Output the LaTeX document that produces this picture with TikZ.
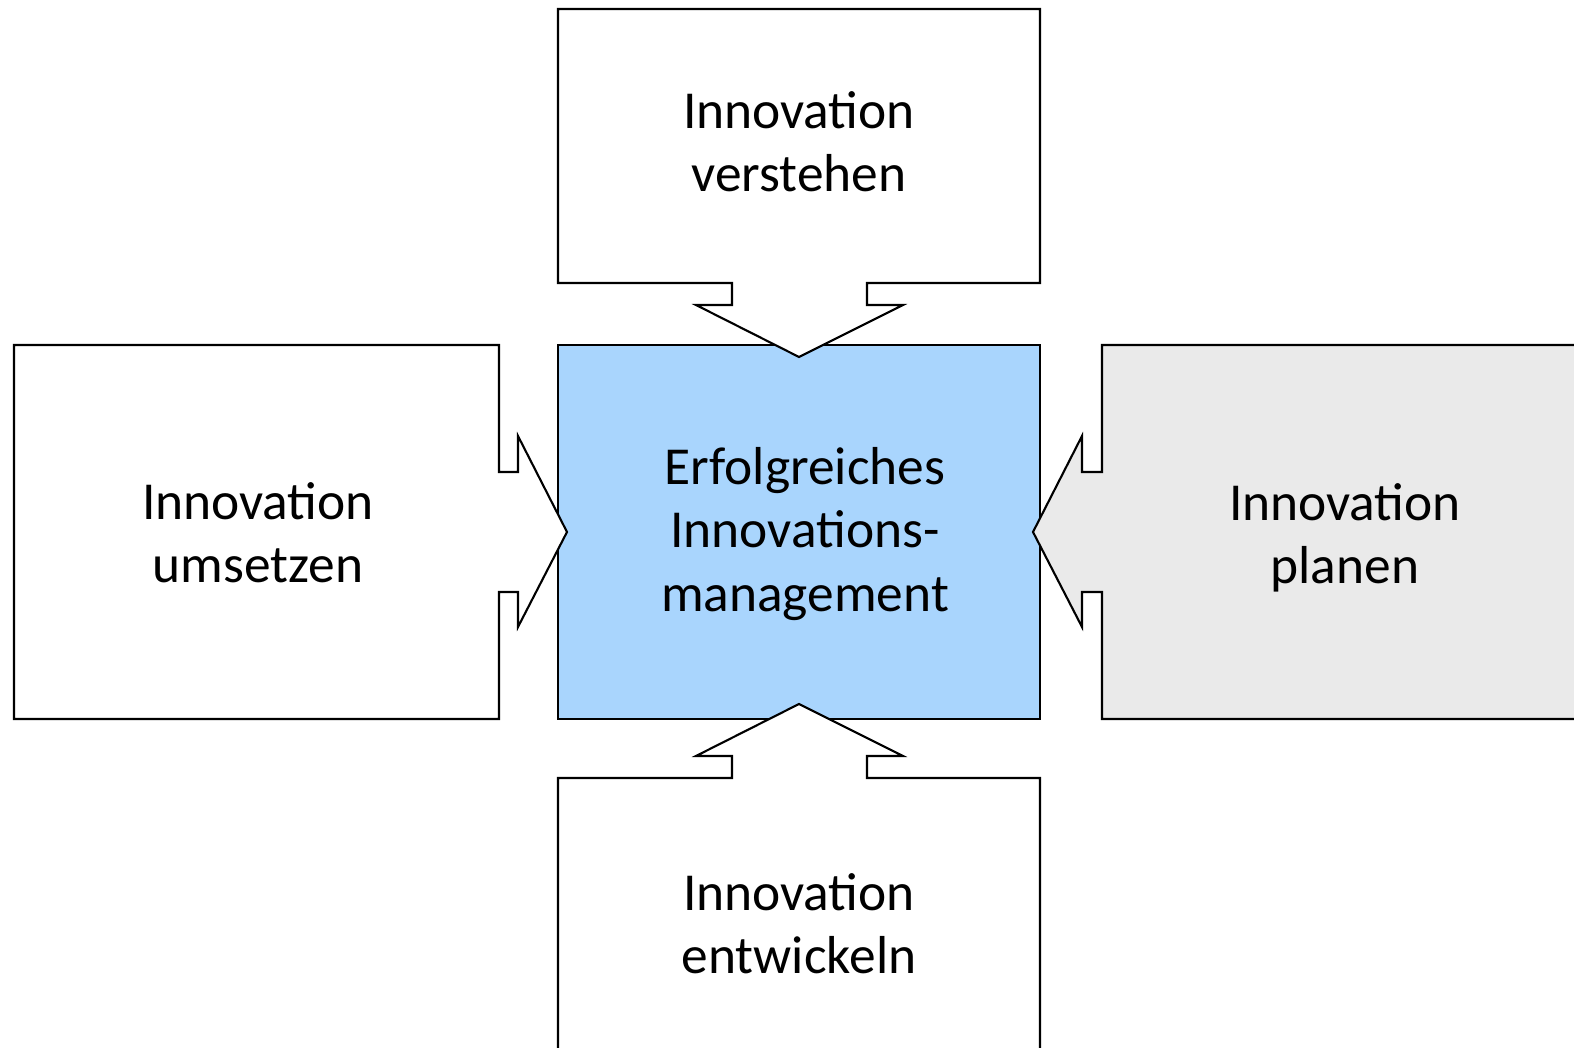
\documentclass[tikz,border=0pt]{standalone}
\usepackage{fontspec}
\setmainfont{Carlito}
\usepackage{xcolor}
\usetikzlibrary{calc}

\definecolor{coreblue}{RGB}{169,213,253}
\definecolor{plangray}{RGB}{234,234,234}

\begin{document}
\begin{tikzpicture}[
    x=0.1mm, y=-0.1mm,
    frame/.style={draw=black, line width=0.6pt, line join=miter},
    txt/.style={align=center, inner sep=0pt, font=\fontsize{15.2}{18}\selectfont},
    core/.style={rectangle, frame, fill=coreblue, minimum width=48.2mm, minimum height=37.4mm}
]
\useasboundingbox (0,0) rectangle (1574,1048);
\clip (0,0) rectangle (1574,1048);

% centre box
\node[core] (core) at (799,532) {};

% callout boxes pointing at the centre
\draw[frame, fill=white] (558,9) -- (1040,9) -- (1040,283) -- (867,283) -- (867,305) -- (903,305)
    -- (799,357) -- (696,305) -- (732,305) -- (732,283) -- (558,283) -- cycle;
\draw[frame, fill=white] (558,1100) -- (558,778) -- (732,778) -- (732,756) -- (696,756)
    -- (799,704) -- (903,756) -- (867,756) -- (867,778) -- (1040,778) -- (1040,1100) -- cycle;
\draw[frame, fill=white] (14,345) -- (499,345) -- (499,472) -- (518,472) -- (518,436)
    -- (567,532) -- (518,627) -- (518,592) -- (499,592) -- (499,719) -- (14,719) -- cycle;
\draw[frame, fill=plangray] (1600,345) -- (1102,345) -- (1102,472) -- (1082,472) -- (1082,436)
    -- (1033,532) -- (1082,627) -- (1082,592) -- (1102,592) -- (1102,719) -- (1600,719) -- cycle;

% labels
\node[txt] (coretext) at (805,534) {Erfolgreiches\\Innovations-\\management};
\node[txt] (verstehen) at (799,142) {Innovation\\verstehen};
\node[txt] (umsetzen) at (258,533) {Innovation\\umsetzen};
\node[txt] (planen) at (1345,538) {Innovation\\planen};
\node[txt] (entwickeln) at (799,924) {Innovation\\entwickeln};
\end{tikzpicture}
\end{document}
